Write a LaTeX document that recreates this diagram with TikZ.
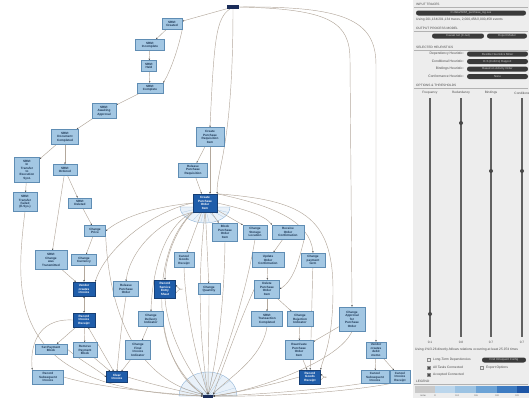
\documentclass[tikz,border=0pt]{standalone}
\usepackage{fontspec}
\setmainfont{Liberation Sans}
\usetikzlibrary{arrows.meta,backgrounds}
\definecolor{boxfill}{HTML}{A3C7E3}
\definecolor{boxline}{HTML}{5F8DB4}
\definecolor{boxtext}{HTML}{1B3553}
\definecolor{darkfill}{HTML}{1F5DAA}
\definecolor{darkline}{HTML}{163F75}
\definecolor{navy}{HTML}{1B2D5A}
\definecolor{edgec}{HTML}{B3A89C}
\definecolor{tipc}{HTML}{4A4A4A}
\definecolor{fanfill}{HTML}{E3EEF8}
\definecolor{fanline}{HTML}{86ACD2}
\definecolor{panel}{HTML}{EDEDED}
\definecolor{ptext}{HTML}{4A4A4A}
\definecolor{pdark}{HTML}{3A3A3A}
\definecolor{lg1}{HTML}{C9C9C9}
\definecolor{lg2}{HTML}{BBD6EC}
\definecolor{lg3}{HTML}{9CC3E3}
\definecolor{lg4}{HTML}{6CA3D6}
\definecolor{lg5}{HTML}{3E7CC2}
\definecolor{lg6}{HTML}{1E56A6}
\tikzset{
 lb/.style 2 args={draw=boxline, fill=boxfill, text=boxtext, line width=0.4pt, inner sep=0.4pt, align=center,
   font=\fontsize{3.1}{3.5}\selectfont\bfseries, minimum width=#1bp, minimum height=#2bp},
 db/.style 2 args={lb={#1}{#2}, draw=darkline, fill=darkfill, text=white},
 term/.style 2 args={fill=navy, inner sep=0, minimum width=#1bp, minimum height=#2bp},
 e/.style={draw=edgec, line width=0.45pt, -{Stealth[length=1.8pt,width=1.5pt,color=tipc]}},
 ee/.style={draw=edgec, line width=0.45pt, {Stealth[length=1.8pt,width=1.5pt,color=tipc]}-{Stealth[length=1.8pt,width=1.5pt,color=tipc]}},
 fan/.style={fill=fanfill, draw=fanline, line width=0.35pt, fill opacity=0.8},
 ray/.style={draw=fanline!70, line width=0.25pt},
 hd/.style={anchor=west, inner sep=0, text=ptext, font=\fontsize{3.2}{3.4}\selectfont},
 ptx/.style={anchor=west, inner sep=0, text=ptext, font=\fontsize{3.3}{3.5}\selectfont},
 rtx/.style={anchor=east, inner sep=0, text=ptext, font=\fontsize{3.4}{3.6}\selectfont},
 ctx/.style={inner sep=0, text=ptext, font=\fontsize{3.2}{3.4}\selectfont},
 pill/.style={fill=pdark, rounded corners=2.4bp, text=white!80!black, inner sep=0, font=\fontsize{2.9}{3.1}\selectfont},
 hline/.style={draw=black!30, line width=0.3pt},
 slider/.style={draw=black!62, line width=1.3bp},
 knob/.style={circle, fill=black!72, inner sep=0, minimum size=4bp},
 cbox/.style={draw=black!45, fill=white!90!black, inner sep=0, minimum size=3bp},
 cboxon/.style={cbox, fill=black!70},
}
\begin{document}
\begin{tikzpicture}[x=1bp,y=-1bp]
\useasboundingbox (0,0) rectangle (529,398);
% ---------- nodes ----------
\node[term={12}{3.5}] (start) at (233,7) {};
\node[term={10}{3}] (stop) at (208,396) {};
\node[lb={20}{11}] (created) at (172,24) {SRM:\\Created};
\node[lb={29}{11}] (incomplete) at (150,45) {SRM:\\Incomplete};
\node[lb={15}{11}] (held) at (149,66) {SRM:\\Held};
\node[lb={26}{10}] (complete) at (150,88) {SRM:\\Complete};
\node[lb={24}{15}] (awaiting) at (104,111) {SRM:\\Awaiting\\Approval};
\node[lb={27}{15}] (doccomp) at (65,137) {SRM:\\Document\\Completed};
\node[lb={25}{25}] (intransfer) at (27,170) {SRM:\\In\\Transfer\\to\\Execution\\Syst.};
\node[lb={24}{11}] (ordered) at (65,170) {SRM:\\Ordered};
\node[lb={24}{19}] (tfailed) at (25,202) {SRM:\\Transfer\\Failed\\(E.Sys.)};
\node[lb={23}{10}] (deleted) at (80,203) {SRM:\\Deleted};
\node[lb={21}{11}] (changeprice) at (95,231) {Change\\Price};
\node[lb={32}{19}] (changetrans) at (51,260) {SRM:\\Change\\was\\Transmitted};
\node[lb={25}{11}] (changecurr) at (84,260) {Change\\Currency};
\node[db={22}{14}] (vinv) at (84,289) {Vendor\\creates\\invoice};
\node[db={22}{14}] (rir) at (84,320) {Record\\Invoice\\Receipt};
\node[lb={25}{15}] (relpo) at (126,289) {Release\\Purchase\\Order};
\node[db={21}{18}] (rses) at (165,289) {Record\\Service\\Entry\\Sheet};
\node[lb={20}{15}] (cgr) at (184,260) {Cancel\\Goods\\Receipt};
\node[lb={22}{11}] (changeqty) at (209,289) {Change\\Quantity};
\node[lb={25}{15}] (cdi) at (151,319) {Change\\Delivery\\Indicator};
\node[lb={32}{10}] (setpb) at (51,349) {Set Payment\\Block};
\node[lb={24}{15}] (rempb) at (85,350) {Remove\\Payment\\Block};
\node[lb={25}{19}] (cfii) at (138,350) {Change\\Final\\Invoice\\Indicator};
\node[lb={31}{14}] (recsub) at (48,377) {Record\\Subsequent\\Invoice};
\node[db={21}{11}] (clear) at (117,377) {Clear\\Invoice};
\node[lb={28}{19}] (cpri) at (210,137) {Create\\Purchase\\Requisition\\Item};
\node[lb={29}{14}] (relpr) at (193,170) {Release\\Purchase\\Requisition};
\node[db={24}{18}] (po) at (205,203) {Create\\Purchase\\Order\\Item};
\node[lb={25}{18}] (block) at (225,232) {Block\\Purchase\\Order\\Item};
\node[lb={24}{14}] (storage) at (255,232) {Change\\Storage\\Location};
\node[lb={32}{14}] (roc) at (288,232) {Receive\\Order\\Confirmation};
\node[lb={32}{15}] (uoc) at (268,260) {Update\\Order\\Confirmation};
\node[lb={24}{14}] (payterm) at (313,260) {Change\\payment\\term};
\node[lb={25}{18}] (delpo) at (267,289) {Delete\\Purchase\\Order\\Item};
\node[lb={31}{15}] (srmtc) at (267,319) {SRM:\\Transaction\\Completed};
\node[lb={26}{15}] (cri) at (300,319) {Change\\Rejection\\Indicator};
\node[lb={28}{19}] (react) at (299,350) {Reactivate\\Purchase\\Order\\Item};
\node[db={21}{14}] (rgr) at (310,377) {Record\\Goods\\Receipt};
\node[lb={26}{24}] (capo) at (352,319) {Change\\Approval\\for\\Purchase\\Order};
\node[lb={20}{16}] (vdm) at (376,350) {Vendor\\creates\\debit\\memo};
\node[lb={28}{13}] (cancelsub) at (375,377) {Cancel\\Subsequent\\Invoice};
\node[lb={20}{13}] (cancelir) at (400,377) {Cancel\\Invoice\\Receipt};
% ---------- right panel ----------
\node[hd] (h1) at (416,4.5) {INPUT TRACES};
\node[pill, minimum width=110bp, minimum height=5bp] (trace) at (471,13) {C:/data/SRM\_purchase\_log.xes};
\node[ptx] (tr) at (416,19.5) {Using 201,134/201,134 traces, 2,000,458/2,000,458 events};
\node[hd] (h2) at (416,28) {OUTPUT PROCESS MODEL};
\node[pill, minimum width=52bp, minimum height=5bp] (model) at (458,36) {Causal net (C-net)};
\node[pill, minimum width=40bp, minimum height=5bp] (export) at (507,36) {Export Model};
\node[hd] (h3) at (416,47) {SELECTED HEURISTICS};
\node[rtx] (l1) at (464,54) {Dependency Heuristic:};
\node[rtx] (l2) at (464,61.5) {Conditional Heuristic:};
\node[rtx] (l3) at (464,69) {Bindings Heuristic:};
\node[rtx] (l4) at (464,76.5) {Conformance Heuristic:};
\node[pill, minimum width=61bp, minimum height=5bp] (d1) at (497.5,54) {Flexible Heuristics Miner};
\node[pill, minimum width=61bp, minimum height=5bp] (d2) at (497.5,61.5) {D-S (Collin's) Rapport};
\node[pill, minimum width=61bp, minimum height=5bp] (d3) at (497.5,69) {Based on Activity Order};
\node[pill, minimum width=61bp, minimum height=5bp] (d4) at (497.5,76.5) {None};
\node[hd] (h4) at (416,85) {OPTIONS \& THRESHOLDS};
\node[ctx] (c1) at (430,93) {Frequency};
\node[ctx] (c2) at (461,93) {Redundancy};
\node[ctx] (c3) at (491,93) {Bindings};
\node[ctx] (c4) at (522,93) {Conditions};
\node[ctx] (v1) at (430,342) {0.1};
\node[ctx] (v2) at (461,342) {0.8};
\node[ctx] (v3) at (491,342) {0.7};
\node[ctx] (v4) at (522,342) {0.7};
\node[ptx] (rel) at (415,349.5) {Using 1\%/3.26 directly-follows relations occurring at least 25.974 times};
\node[cbox] (k1) at (429,360) {};
\node[ptx] (t1) at (433,360) {Long-Term Dependencies};
\node[pill, minimum width=44bp, minimum height=5bp] (find) at (504,360) {Find Infrequent Config};
\node[cboxon] (k2) at (429,367.5) {};
\node[ptx] (t2) at (433,367.5) {All Tasks Connected};
\node[cbox] (k3) at (482,367.5) {};
\node[ptx] (t3) at (486,367.5) {Export Options};
\node[cboxon] (k4) at (429,375) {};
\node[ptx] (t4) at (433,375) {Accepted Connected};
\node[hd] (h5) at (416,381.5) {LEGEND};
\node[ctx,font=\fontsize{2.4}{2.6}\selectfont] (g1) at (423,396) {none};
\node[ctx,font=\fontsize{2.4}{2.6}\selectfont] (g2) at (435,396) {0};
\node[ctx,font=\fontsize{2.4}{2.6}\selectfont] (g3) at (457,396) {0.4};
\node[ctx,font=\fontsize{2.4}{2.6}\selectfont] (g4) at (476,396) {0.6};
\node[ctx,font=\fontsize{2.4}{2.6}\selectfont] (g5) at (497,396) {0.8};
\node[ctx,font=\fontsize{2.4}{2.6}\selectfont] (g6) at (517,396) {0.9};
\node[knob] (n1) at (430,314) {};
\node[knob] (n2) at (461,123) {};
\node[knob] (n3) at (491,171) {};
\node[knob] (n4) at (522,171) {};
% ---------- background layer ----------
\begin{pgfonlayer}{background}
\fill[panel] (413,0) rectangle (529,398);
\draw[hline] (414,7.3) -- (528,7.3);
\draw[hline] (414,30.8) -- (528,30.8);
\draw[hline] (414,49.8) -- (528,49.8);
\draw[hline] (414,87.8) -- (528,87.8);
\draw[hline] (414,384) -- (528,384);
\foreach \sx in {430,461,491,522} \draw[slider] (\sx,98) -- (\sx,337);
\fill[lg1] (415,385.5) rectangle (435,393);
\fill[lg2] (435,385.5) rectangle (455,393);
\fill[lg3] (455,385.5) rectangle (476,393);
\fill[lg4] (476,385.5) rectangle (497,393);
\fill[lg5] (497,385.5) rectangle (517,393);
\fill[lg6] (517,385.5) rectangle (529,393);
% fans
\path[fan] (180,207) arc[start angle=180, end angle=360, x radius=25bp, y radius=16bp] -- cycle;
\foreach \a in {-160,-140,-120,-100,-80,-60,-40,-20} \draw[ray] (205,207) -- ++(\a:25bp and 16bp);
\path[fan] (179,396) arc[start angle=180, end angle=0, x radius=29bp, y radius=24bp] -- cycle;
\foreach \a in {160,140,120,100,80,60,40,20} \draw[ray] (208,396) -- ++(\a:29bp and 24bp);
% SRM chain
\draw[e] (start) -- (created);
\draw[e] (created) -- (incomplete);
\draw[e] (incomplete) -- (held);
\draw[e] (held) -- (complete);
\draw[e] (created.south east) .. controls (178,50) and (170,72) .. (complete.north east);
\draw[e] (complete) -- (awaiting);
\draw[e] (awaiting) -- (doccomp);
\draw[e] (doccomp) -- (intransfer);
\draw[e] (doccomp) -- (ordered);
\draw[e] (intransfer) -- (tfailed);
\draw[e] (ordered) -- (deleted);
\draw[e] (ordered) -- (changetrans);
\draw[e] (deleted) -- (changeprice);
\draw[e] (changeprice) -- (changecurr);
\draw[e] (changecurr) -- (vinv);
\draw[e] (changetrans) -- (vinv);
\draw[ee] (vinv) -- (rir);
\draw[e] (rir) -- (setpb);
\draw[e] (rir) -- (rempb);
\draw[ee] (rir) -- (clear);
\draw[e] (rir.west) .. controls (35,318) and (30,350) .. (recsub.north west);
\draw[e] (setpb.east) .. controls (80,360) and (95,368) .. (clear.west);
\draw[e] (rempb) -- (clear);
\draw[e] (cfii) -- (clear);
\draw[e] (cdi) -- (cfii);
\draw[e] (relpo.south) .. controls (122,320) and (119,350) .. (clear.north);
% to the end
\draw[e] (tfailed.south) .. controls (14,300) and (10,390) .. (stop.west);
\draw[e] (recsub.east) .. controls (100,388) and (170,394) .. (stop.west);
\draw[e] (clear.east) .. controls (150,384) and (185,392) .. (stop.west);
\draw[e] (changeprice.south east) .. controls (110,320) and (140,380) .. (stop.north west);
\draw[e] (cdi.south east) .. controls (168,360) and (190,385) .. (stop.north west);
\draw[e] (rses.south) .. controls (168,340) and (195,380) .. (stop.north);
\draw[e] (cgr.south) .. controls (186,320) and (200,370) .. (stop.north);
\draw[e] (changeqty.south) .. controls (209,330) and (208,370) .. (stop.north);
\draw[e] (block.south) .. controls (224,320) and (214,370) .. (stop.north);
\draw[e] (storage.south) .. controls (245,300) and (220,372) .. (stop.north);
\draw[e] (srmtc.south) .. controls (262,360) and (225,380) .. (stop.north east);
\draw[e] (delpo.west) .. controls (240,320) and (222,370) .. (stop.north east);
\draw[e] (rgr.west) .. controls (270,385) and (240,392) .. (stop.east);
\draw[e] (capo.south) .. controls (340,360) and (260,390) .. (stop.east);
\draw[e] (cancelsub.south west) .. controls (320,390) and (250,395) .. (stop.east);
\draw[e] (cancelir.south west) .. controls (340,393) and (260,397) .. (stop.east);
\draw[e] (po.south west) .. controls (150,250) and (150,360) .. (stop.north west);
\draw[e] (po.south) .. controls (195,300) and (203,360) .. (stop.north);
% start edges
\draw[e] (start) .. controls (216,18) and (214,40) .. (cpri.north);
\draw[e] (start.south) .. controls (233,150) and (216,170) .. (po.north east);
\draw[e] (start.east) .. controls (330,9) and (350,22) .. (350,60) -- (capo.north);
\draw[e] (start.east) .. controls (345,6) and (376,20) .. (376,65) -- (vdm.north);
% purchase requisition / order
\draw[e] (cpri) -- (relpr);
\draw[e] (cpri.south) -- (po.north -| cpri.south);
\draw[e] (relpr) -- (po);
\draw[e] (po) -- (block);
\draw[e] (po) -- (storage);
\draw[e] (po.east) .. controls (240,208) and (265,215) .. (roc.north west);
\draw[e] (po) -- (cgr);
\draw[e] (po) -- (changeqty);
\draw[e] (po.south west) .. controls (175,230) and (165,260) .. (rses.north);
\draw[e] (po.south west) .. controls (160,220) and (130,250) .. (relpo.north);
\draw[e] (po.south west) .. controls (165,225) and (152,270) .. (cdi.north);
\draw[e] (po.west) .. controls (150,212) and (105,250) .. (vinv.north east);
\draw[e] (po.west) .. controls (160,206) and (125,215) .. (changeprice.east);
\draw[e] (po.north east) .. controls (270,205) and (310,220) .. (payterm.north);
\draw[e] (po.north east) .. controls (300,200) and (333,215) .. (333,290) .. controls (333,345) and (322,360) .. (rgr.north east);
\draw[e] (roc) -- (uoc);
\draw[e] (roc.south east) .. controls (300,255) and (295,280) .. (delpo.east);
\draw[e] (uoc) -- (delpo);
\draw[e] (delpo) -- (srmtc);
\draw[e] (delpo) -- (cri);
\draw[e] (cri) -- (react);
\draw[e] (react) -- (rgr);
\draw[e] (payterm) -- (rgr);
\draw[e] (capo) -- (react);
\draw[e] ([yshift=-3bp]rgr.east) .. controls (328,372) and (328,382) .. ([yshift=3bp]rgr.east);
\draw[e] ([yshift=-4bp]rses.east) .. controls (184,283) and (184,295) .. ([yshift=4bp]rses.east);
\draw[e] (vdm) -- (cancelsub);
\draw[e] (vdm) -- (cancelir);
\end{pgfonlayer}
\end{tikzpicture}
\end{document}
